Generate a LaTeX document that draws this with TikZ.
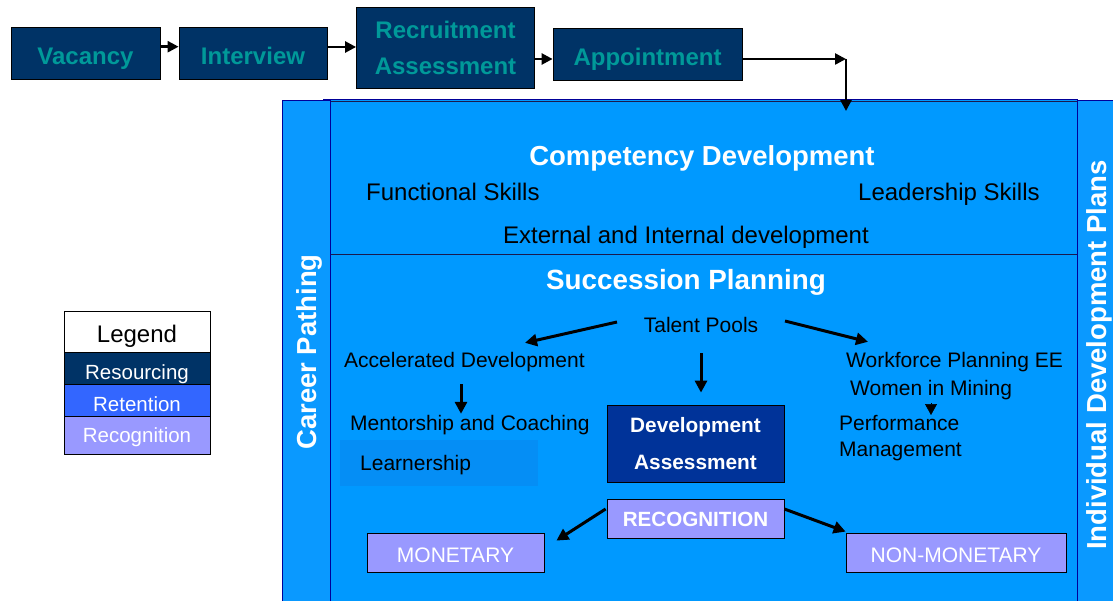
\documentclass[tikz,border=0pt]{standalone}
\usepackage{fontspec}
\setmainfont{Liberation Sans}
\usetikzlibrary{arrows.meta}
\definecolor{resc}{HTML}{003366}
\definecolor{retc}{HTML}{3366FF}
\definecolor{recc}{HTML}{9999FF}
\definecolor{tealtxt}{HTML}{009999}
\definecolor{mainblue}{HTML}{0099FF}
\definecolor{panelblue}{HTML}{0A99FF}
\definecolor{darkedge}{HTML}{000099}
\definecolor{devblue}{HTML}{003399}
\definecolor{lrnblue}{HTML}{058EF5}
\definecolor{cdedge}{HTML}{1A1A4D}
\begin{document}
\begin{tikzpicture}[x=1pt,y=-1pt,
  sz/.style={font=\fontsize{#1}{#1}\selectfont},
  bsz/.style={font=\fontsize{#1}{#1}\selectfont\bfseries},
  txt/.style={inner sep=0pt, text depth=0pt, text height=#1},
  topbox/.style={draw=black, line width=0.8pt, fill=resc, text=tealtxt, inner sep=0pt,
    font=\fontsize{24}{36}\selectfont\bfseries},
  legbox/.style={draw=black, line width=0.8pt, minimum width=146, inner sep=0pt, text depth=0pt,
    font=\fontsize{20.5}{24}\selectfont},
  recbox/.style={draw=black, line width=0.8pt, fill=recc, text=white, inner sep=0pt, text depth=0pt},
  tarr/.style={draw=black, line width=2.5pt, -{Triangle[length=11pt,width=11pt]}},
  arr/.style={draw=black, line width=3pt, -{Triangle[length=12pt,width=12pt]}},
  tinyarr/.style={draw=black, line width=0.5pt, -{Triangle[length=11pt,width=12pt]}}
]
\useasboundingbox (0,0) rectangle (1113,601);
\clip (0,0) rectangle (1113,601);
\fill[white] (0,0) rectangle (1113,601);

% ---------- top recruitment flow ----------
\node[topbox, minimum width=149, minimum height=52, text height=24pt, text depth=0pt] (vac) at (85.5,53) {Vacancy};
\node[topbox, minimum width=148, minimum height=52, text height=24pt, text depth=0pt] (int) at (253,53) {Interview};
\node[topbox, minimum width=178, minimum height=81, align=center] (rec) at (445.5,47.5) {Recruitment\\Assessment};
\node[topbox, minimum width=189, minimum height=52, text height=24pt, text depth=0pt] (app) at (647.5,54) {Appointment};
\coordinate (corner) at (846,59);

% ---------- main panels ----------
\fill[mainblue, draw=darkedge, line width=1pt] (323,100) rectangle (1077,650);
\node[draw=cdedge, line width=1.2pt, fill=mainblue, anchor=north west, inner sep=0pt,
  minimum width=747, minimum height=153] (cdbox) at (330,101) {};
\fill[panelblue, draw=darkedge, line width=1pt] (282,101) rectangle (330,650);
\fill[panelblue, draw=darkedge, line width=1pt] (1077,101) rectangle (1140,650);

\node[rotate=90, txt=19.7pt, bsz=27.5, text=white] (cp) at (306.5,352) {Career Pathing};
\node[rotate=90, txt=19.7pt, bsz=27.5, text=white] (idp) at (1097,355) {Individual Development Plans};

% ---------- competency development ----------
\node[txt=19.7pt, bsz=27.5, text=white] (cd) at (702,156) {Competency Development};
\node[txt=17.2pt, sz=24, anchor=west] (fsk) at (366,192) {Functional Skills};
\node[txt=17.2pt, sz=24, anchor=west] (lsk) at (858,192) {Leadership Skills};
\node[txt=17.2pt, sz=24] (ei) at (686,235) {External and Internal development};

% ---------- succession planning ----------
\node[txt=19.9pt, bsz=27.8, text=white] (sp) at (686,280) {Succession Planning};
\node[txt=15pt, sz=21] (tp) at (701,325) {Talent Pools};
\node[txt=15pt, sz=21, anchor=west] (ad) at (344,360) {Accelerated Development};
\node[txt=15pt, sz=21, anchor=west] (mc) at (350,423) {Mentorship and Coaching};
\node[fill=lrnblue, anchor=west, inner xsep=20pt, inner ysep=0pt, minimum height=46,
  text width=158pt, align=left, text height=15pt, text depth=0pt, sz=21] (lrn) at (340,463) {Learnership};
\node[txt=15pt, sz=21, anchor=west] (wf) at (846,360) {Workforce Planning EE};
\node[txt=15pt, sz=21, anchor=west] (wm) at (850,388) {Women in Mining};
\node[inner sep=0pt, anchor=north west, align=left, font=\fontsize{21}{25.5}\selectfont] (pm) at (839,415.5) {Performance\\Management};

\node[draw=black, line width=0.8pt, fill=devblue, text=white, minimum width=177, minimum height=77,
  inner sep=0pt, align=center, font=\fontsize{20.8}{37}\selectfont\bfseries] (da) at (695.5,443.5) {Development\\Assessment};
\node[recbox, minimum width=177, minimum height=39, text height=16pt, font=\fontsize{20.6}{24}\selectfont\bfseries] (rcg) at (695.5,518.5) {RECOGNITION};
\node[recbox, minimum width=177, minimum height=39, text height=19pt, font=\fontsize{21}{24}\selectfont] (mon) at (455.5,552.5) {MONETARY};
\node[recbox, minimum width=220, minimum height=39, text height=19pt, font=\fontsize{21}{24}\selectfont] (nm) at (956,552.5) {NON-MONETARY};

% ---------- legend ----------
\node[legbox, fill=white, minimum height=41, text height=21.2pt, font=\fontsize{24}{28}\selectfont] (leg) at (137,331.5) {Legend};
\node[legbox, fill=resc, text=white, minimum height=32, text height=23.6pt] (lres) at (137,368) {Resourcing};
\node[legbox, fill=retc, text=white, minimum height=32, text height=23.6pt] (lret) at (137,400) {Retention};
\node[legbox, fill=recc, text=white, minimum height=38, text height=15.6pt] (lrecg) at (137,435) {Recognition};

% ---------- connectors ----------
\draw[tarr] ([yshift=6.3pt]vac.east) -- ([yshift=6.3pt]int.west);
\draw[tarr] ([yshift=6pt]int.east) -- ([yshift=0.5pt]rec.west);
\draw[tarr] ([yshift=-11.5pt]rec.east) -- ([yshift=-5pt]app.west);
\draw[tarr] ([yshift=-5pt]app.east) -- (corner);
\draw[tarr, shorten >=-10pt] (corner) -- (corner |- cdbox.north);

\draw[arr] ([xshift=-84pt,yshift=3pt]tp.center) -- ([xshift=181pt,yshift=9.5pt]ad.north west);
\draw[arr] ([xshift=84pt,yshift=4pt]tp.center) -- ([xshift=22pt,yshift=10.5pt]wf.north west);
\draw[arr] ([yshift=-28pt]tp.center) -- ([xshift=5.5pt,yshift=12pt]da.north);
\draw[arr] ([xshift=117pt,yshift=-16.5pt]ad.south west) -- ([xshift=111pt,yshift=1.5pt]mc.north west);
\draw[tinyarr] ([xshift=81pt,yshift=-7.5pt]wm.south west) -- ([xshift=92pt,yshift=0.5pt]pm.north west);
\draw[arr] ([xshift=-1pt,yshift=9.5pt]rcg.west) -- ([xshift=12pt,yshift=-8pt]mon.north east);
\draw[arr] ([yshift=9.5pt]rcg.east) -- ([yshift=1pt]nm.north west);
\end{tikzpicture}
\end{document}
